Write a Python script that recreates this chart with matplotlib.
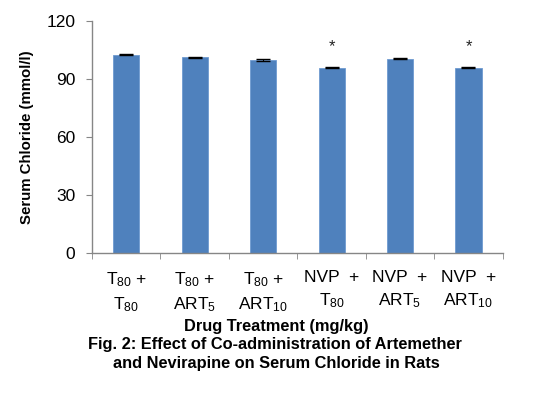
import matplotlib
matplotlib.use("Agg")
import matplotlib.pyplot as plt
import numpy as np

plt.rcParams['font.family'] = ['Liberation Sans', 'DejaVu Sans']
plt.rcParams['mathtext.fontset'] = 'custom'
plt.rcParams['mathtext.rm'] = 'Liberation Sans'
plt.rcParams['mathtext.it'] = 'Liberation Sans'
plt.rcParams['mathtext.bf'] = 'Liberation Sans:bold'

categories = [r"T$_{80}$ +" "\n" r"T$_{80}$",
              r"T$_{80}$ +" "\n" r"ART$_{5}$",
              r"T$_{80}$ +" "\n" r"ART$_{10}$",
              "NVP  +\n" r"T$_{80}$",
              "NVP  +\n" r"ART$_{5}$",
              "NVP  +\n" r"ART$_{10}$"]
values = [102.5, 101.0, 99.7, 95.8, 100.3, 95.8]
errors = [0.4, 0.4, 0.3, 0.4, 0.3, 0.4]
significant = [False, False, False, True, False, True]
yticks = [0, 30, 60, 90, 120]

fig = plt.figure(figsize=(5.4, 3.96), dpi=100)
ax = fig.add_axes([0.170, 0.360, 0.761, 0.588])

x = np.arange(len(values))
ax.bar(x, values, width=0.38, color='#4F81BD', edgecolor='#6F9BD1', linewidth=0.6,
       yerr=errors, error_kw=dict(ecolor='black', elinewidth=0.8, capsize=5, capthick=1.0))
for xi, v, s in zip(x, values, significant):
    if s:
        ax.text(xi, v + 11, "*", ha='center', va='center', fontsize=12, color='#222222')

ax.set_xlim(-0.5, len(values) - 0.5)
ax.set_ylim(0, 120)
ax.set_yticks(yticks)
ax.set_yticklabels([str(t) for t in yticks], fontsize=12.5)
ax.set_xticks(x)
ax.set_xticklabels(categories, fontsize=12.5, linespacing=1.45)
ax.set_xticks(np.arange(-0.5, len(values), 1.0), minor=True)
ax.tick_params(axis='x', which='major', length=0, pad=12)
ax.tick_params(axis='x', which='minor', length=4, color='#868686')
ax.tick_params(axis='y', length=4, color='#868686', pad=8)

for side in ['top', 'right']:
    ax.spines[side].set_visible(False)
for side in ['left', 'bottom']:
    ax.spines[side].set_color('#868686')
    ax.spines[side].set_linewidth(1.0)

ax.set_ylabel("Serum Chloride (mmol/l)", fontsize=10.8, fontweight='bold', labelpad=9)

fig.text(0.511, 0.175, "Drug Treatment (mg/kg)", ha='center', va='center', fontsize=11.8, fontweight='bold')
fig.text(0.509, 0.129, "Fig. 2: Effect of Co-administration of Artemether", ha='center', va='center', fontsize=11.8, fontweight='bold')
fig.text(0.511, 0.083, "and Nevirapine on Serum Chloride in Rats", ha='center', va='center', fontsize=11.8, fontweight='bold')

fig.savefig("out.png", dpi=100)
